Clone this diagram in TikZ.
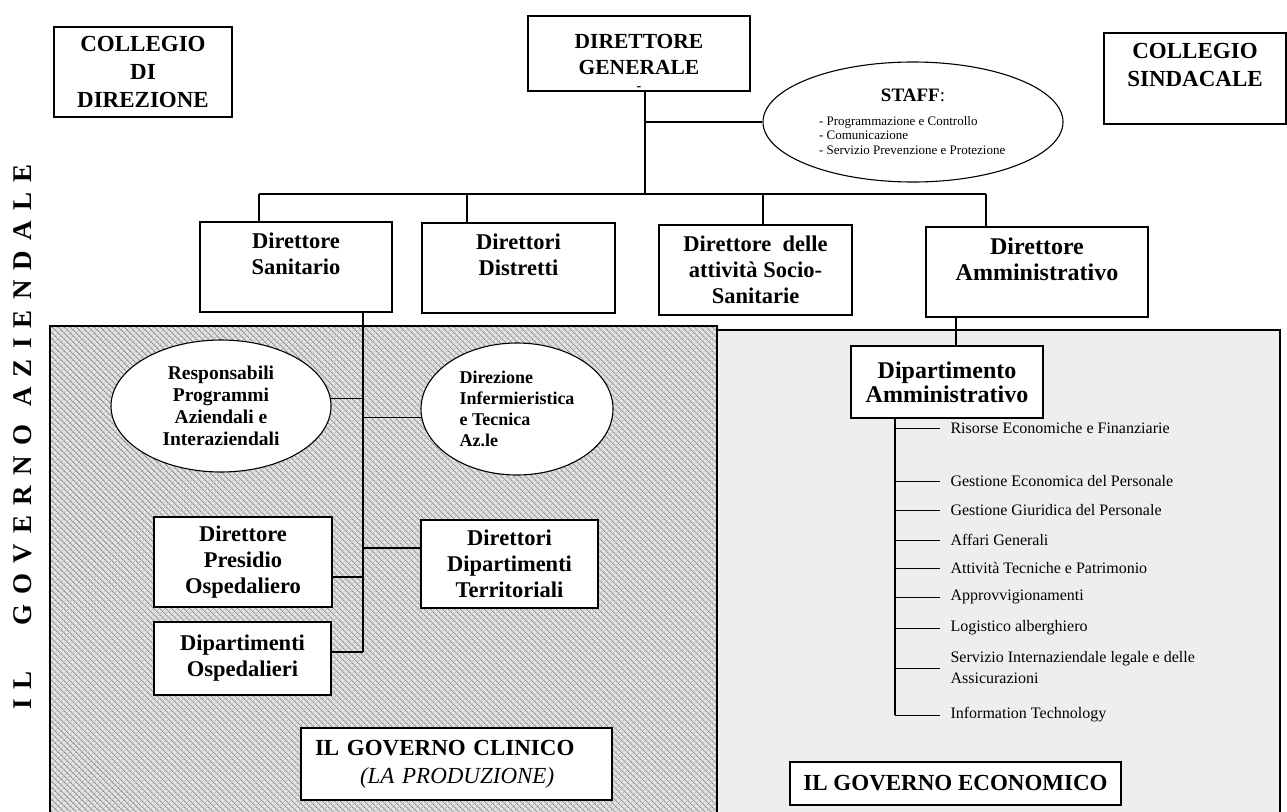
\documentclass[tikz,border=0pt]{standalone}
\usepackage{fontspec}
\setmainfont{Liberation Serif}
\usetikzlibrary{shapes.geometric,patterns.meta,calc}
\newcommand{\fsz}[2]{\fontsize{#1}{#2}\selectfont}

\begin{document}
\begin{tikzpicture}
[x=1pt,y=-1pt, line width=1.1pt,
box/.style={draw,rectangle,fill=white,align=center,inner sep=0pt,font=\bfseries\fsz{22.5}{26}},
oval/.style={draw,ellipse,fill=white,inner sep=0pt,font=\bfseries\fsz{19.5}{22}},
item/.style={anchor=west,align=left,inner sep=0pt,font=\fsz{16}{21}}]
\useasboundingbox (0,0) rectangle (1287,811);
\clip (0,0) rectangle (1287,811);
\fill[white] (0,0) rectangle (1287,811);

% the two areas
\fill[gray!22] (50,326) rectangle (717,830);
\fill[pattern={Lines[angle=-45,distance=4pt,line width=0.9pt]},pattern color=gray!90] (50,326) rectangle (717,830);
\fill[pattern={Lines[angle=45,distance=4pt,line width=0.5pt]},pattern color=gray!65] (50,326) rectangle (717,830);
\draw (50,326) rectangle (717,830);
\filldraw[fill=gray!13] (717,330) rectangle (1280,830);

\node (ga) at (23,437) [rotate=90,inner sep=0pt,font=\bfseries\fsz{27}{27}\addfontfeatures{LetterSpace=38}] {IL\hspace{45pt}GOVERNO\hspace{18pt}AZIENDALE};

\node (cd) at (143,72) [box,minimum width=178pt,minimum height=90pt,font=\bfseries\fsz{23}{28}] {COLLEGIO\\DI\\DIREZIONE};
\node (dg) at (639,53.5) [box,minimum width=222pt,minimum height=75pt,font=\bfseries\fsz{21.5}{26}] {\raisebox{-11pt}[\height][\depth]{\begin{tabular}{@{}c@{}}DIRETTORE\\GENERALE\\[-10pt]{\fsz{14}{14}-}\end{tabular}}};
\node (st) at (913,122) [draw,ellipse,fill=white,minimum width=300pt,minimum height=120pt,inner sep=0pt,align=left,font=\fsz{13}{14.5}] {\makebox[188pt]{\fsz{19}{20}\bfseries STAFF\mdseries:}\\[9pt]- Programmazione e Controllo\\- Comunicazione\\- Servizio Prevenzione e Protezione};
\node (cs) at (1195,78.5) [box,minimum width=182pt,minimum height=91pt,font=\bfseries\fsz{23}{28}] {COLLEGIO\\SINDACALE\\~};

\node (ds) at (296,267) [box,minimum width=192pt,minimum height=90pt] {Direttore\\Sanitario\\~};
\node (dd) at (518.5,268) [box,minimum width=193pt,minimum height=90pt] {Direttori\\Distretti\\~};
\node (dss) at (755.5,270) [box,minimum width=193pt,minimum height=90pt] {Direttore\ \ delle\\attività Socio-\\Sanitarie};
\node (da) at (1037,272) [box,minimum width=222pt,minimum height=90pt,font=\bfseries\fsz{24}{26}] {Direttore\\Amministrativo\\~};

\node (rp) at (221,406) [oval,minimum width=220pt,minimum height=132pt,align=center] {Responsabili\\Programmi\\Aziendali e\\Interaziendali};
\node (di) at (517,409) [oval,minimum width=192pt,minimum height=132pt,align=left,font=\bfseries\fsz{18}{21}] {Direzione\\Infermieristica\\e Tecnica\\Az.le};
\node (dp) at (243,562) [box,minimum width=178pt,minimum height=90pt] {Direttore\\Presidio\\Ospedaliero};
\node (dt) at (509.5,564) [box,minimum width=177pt,minimum height=88pt] {Direttori\\Dipartimenti\\Territoriali};
\node (do) at (242.5,658.5) [box,minimum width=177pt,minimum height=73pt] {Dipartimenti\\Ospedalieri};
\node (gc) at (456.5,764) [box,text width=283pt,inner xsep=14pt,minimum height=72pt,align=left,font=\bfseries\fsz{23}{28}] {IL GOVERNO CLINICO\\\hspace*{45pt}\mdseries\itshape(LA PRODUZIONE)};

\node (dm) at (947,382) [box,minimum width=192pt,minimum height=72pt,font=\bfseries\fsz{24}{24}] {Dipartimento\\Amministrativo};
\node (ge) at (955.5,783.5) [box,minimum width=331pt,minimum height=43pt,font=\bfseries\fsz{23}{26}] {IL GOVERNO ECONOMICO};

% top level lines
\coordinate (b0) at (645,194);
\coordinate (s0) at (645,122);
\coordinate (b1) at (259,194);
\coordinate (b2) at (467,194);
\coordinate (b3) at (763,194);
\coordinate (b4) at (986,194);
\draw (b1) -- (b4);
\draw (dg.south -| b0) -- (b0);
\draw (s0) -- (st.west);
\foreach \b/\n in {b1/ds,b2/dd,b3/dss,b4/da}
  \draw (\b) -- (\b |- \n.north);

% governo clinico
\coordinate (t0) at (363,652);
\coordinate (t1) at (363,548);
\coordinate (t2) at (363,577);
\draw (ds.south -| t0) -- (t0);
\draw (rp.4) -- (rp.4 -| t0);
\draw (di.185) -- (di.185 -| t0);
\draw (t1) -- (t1 -| dt.west);
\draw (t2) -- (t2 -| dp.east);
\draw (t0) -- (t0 -| do.east);

% governo economico
\coordinate (a0) at (956,0);
\coordinate (l0) at (895,715);
\draw (da.south -| a0) -- (dm.north -| a0);
\draw (dm.south -| l0) -- (l0);
\foreach \y/\t [count=\k] in {428/{Risorse Economiche e Finanziarie},481/{Gestione Economica del Personale},
  510/{Gestione Giuridica del Personale},540/{Affari Generali},568/{Attività Tecniche e Patrimonio},
  597/{Approvvigionamenti},628/{Logistico alberghiero},668/{Servizio Internaziendale legale e delle\\Assicurazioni},
  715/{Information Technology}}
{
\node (i\k) at (950,\y) [item] {\t};
\draw[line width=0.9pt] (i\k.west -| l0) -- ([xshift=-10pt]i\k.west);
}
\end{tikzpicture}
\end{document}
